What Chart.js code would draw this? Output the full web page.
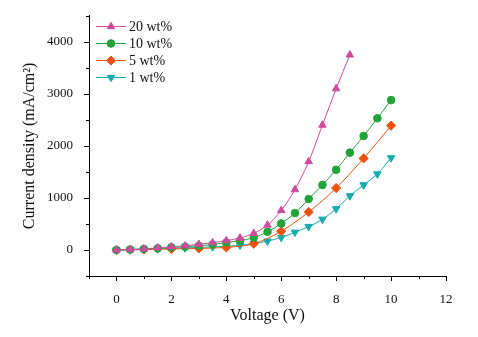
<!DOCTYPE html>
<html>
<head>
<meta charset="utf-8">
<script src="https://cdn.jsdelivr.net/npm/chart.js@4"></script>
<style>
  html, body { margin: 0; padding: 0; background: #fff; }
  #wrap { width: 478px; height: 337px; }
</style>
</head>
<body>
<div id="wrap"><canvas id="jvChart" width="478" height="337"></canvas></div>
<script>
// voltage steps (V)
const voltHalf = [0, 0.5, 1, 1.5, 2, 2.5, 3, 3.5, 4, 4.5, 5, 5.5, 6, 6.5, 7, 7.5, 8, 8.5, 9, 9.5, 10];
const voltWhole = [0, 1, 2, 3, 4, 5, 6, 7, 8, 9, 10];

// current density (mA/cm2)
const wt20 = [0, 10, 20, 40, 60, 80, 110, 140, 180, 230, 320, 480, 760, 1160, 1700, 2400, 3100, 3750];
const wt10 = [0, 10, 20, 30, 50, 62, 80, 106, 144, 181, 237, 349, 510, 710, 980, 1250, 1540, 1870, 2190, 2530, 2880];
const wt5 = [0, 10, 20, 30, 50, 120, 360, 730, 1190, 1760, 2390];
const wt1 = [0, 0, 10, 20, 30, 40, 50, 60, 70, 90, 120, 170, 240, 340, 450, 590, 790, 1040, 1250, 1460, 1770];

const seriesNames = ['20 wt%', '10 wt%', '5 wt%', '1 wt%'];
const seriesColors = ['#CF4A9E', '#22A33A', '#F0520E', '#12ABAE'];
const seriesMarkers = ['triangle', 'circle', 'rectRot', 'triangle'];

const xTickLabels = [0, 2, 4, 6, 8, 10, 12];
const yTickLabels = [0, 1000, 2000, 3000, 4000];

function pairs(xs, ys) {
  return ys.map((y, i) => ({ x: xs[i], y: y }));
}

const serif = '"Liberation Serif", "DejaVu Serif", serif';

// axis ticks (major + minor, outward) and titles, legend
const decorPlugin = {
  id: 'decor',
  afterDraw(chart) {
    const c = chart.ctx;
    const xs = chart.scales.x, ys = chart.scales.y;
    const area = chart.chartArea;
    c.save();
    c.strokeStyle = '#000';
    c.lineWidth = 1;
    // x ticks
    for (let v = -1; v <= 12; v++) {
      const px = Math.round(xs.getPixelForValue(v)) + 0.5;
      const len = (v % 2 === 0) ? 5 : 3;
      c.beginPath();
      c.moveTo(px, area.bottom);
      c.lineTo(px, area.bottom + len);
      c.stroke();
    }
    // y ticks
    for (let v = -500; v <= 4500; v += 500) {
      const py = Math.round(ys.getPixelForValue(v)) + 0.5;
      const len = (v % 1000 === 0) ? 5 : 3;
      c.beginPath();
      c.moveTo(area.left, py);
      c.lineTo(area.left - len, py);
      c.stroke();
    }
    // titles
    c.fillStyle = '#111';
    c.font = '16px ' + serif;
    c.textAlign = 'center';
    c.textBaseline = 'middle';
    c.fillText('Voltage (V)', (area.left + area.right) / 2, 316);
    c.save();
    c.translate(30, (area.top + area.bottom) / 2);
    c.rotate(-Math.PI / 2);
    c.fillText('Current density (mA/cm\u00B2)', 0, 0);
    c.restore();

    // legend
    c.font = '14px ' + serif;
    c.textAlign = 'left';
    seriesNames.forEach((name, i) => {
      const y = 26 + i * 17;
      c.strokeStyle = seriesColors[i];
      c.beginPath();
      c.moveTo(96, y + 0.5);
      c.lineTo(126, y + 0.5);
      c.stroke();
      c.fillStyle = seriesColors[i];
      const ds = chart.data.datasets[i];
      Chart.helpers.drawPoint(c, {
        pointStyle: seriesMarkers[i],
        radius: ds.pointRadius,
        rotation: ds.pointRotation || 0,
        borderWidth: 1
      }, 111, y + 0.5);
      c.fillStyle = '#111';
      c.fillText(name, 129, y + 1);
    });
    c.restore();
  }
};

function makeSet(i, data, radius, rotation) {
  return {
    label: seriesNames[i],
    data: data,
    borderColor: seriesColors[i],
    backgroundColor: seriesColors[i],
    pointBackgroundColor: seriesColors[i],
    pointBorderColor: seriesColors[i],
    pointStyle: seriesMarkers[i],
    pointRadius: radius,
    pointRotation: rotation,
    borderWidth: 1,
    cubicInterpolationMode: 'monotone'
  };
}

const ctx = document.getElementById('jvChart').getContext('2d');
new Chart(ctx, {
  type: 'line',
  data: {
    datasets: [
      makeSet(0, pairs(voltHalf, wt20), 4.3, 0),
      makeSet(1, pairs(voltHalf, wt10), 3.8, 0),
      makeSet(2, pairs(voltWhole, wt5), 4.6, 0),
      makeSet(3, pairs(voltHalf, wt1), 4.3, 180)
    ]
  },
  options: {
    responsive: false,
    animation: false,
    layout: { padding: { top: 10, right: 32, left: 0, bottom: 0 } },
    plugins: {
      legend: { display: false },
      tooltip: { enabled: false }
    },
    scales: {
      x: {
        type: 'linear',
        min: -1,
        max: 12,
        afterFit(scale) { scale.height = 61; },
        afterBuildTicks(scale) { scale.ticks = xTickLabels.map(v => ({ value: v })); },
        grid: { display: false },
        border: { display: true, color: '#000', width: 1 },
        ticks: {
          color: '#111',
          font: { family: serif, size: 13 },
          padding: 8,
          maxRotation: 0,
          callback: v => String(v)
        }
      },
      y: {
        min: -500,
        max: 4500,
        afterFit(scale) { scale.width = 89; },
        afterBuildTicks(scale) { scale.ticks = yTickLabels.map(v => ({ value: v })); },
        grid: { display: false },
        border: { display: true, color: '#000', width: 1 },
        ticks: {
          color: '#111',
          font: { family: serif, size: 13 },
          padding: 8,
          callback: v => String(v)
        }
      }
    }
  },
  plugins: [decorPlugin]
});
</script>
</body>
</html>
